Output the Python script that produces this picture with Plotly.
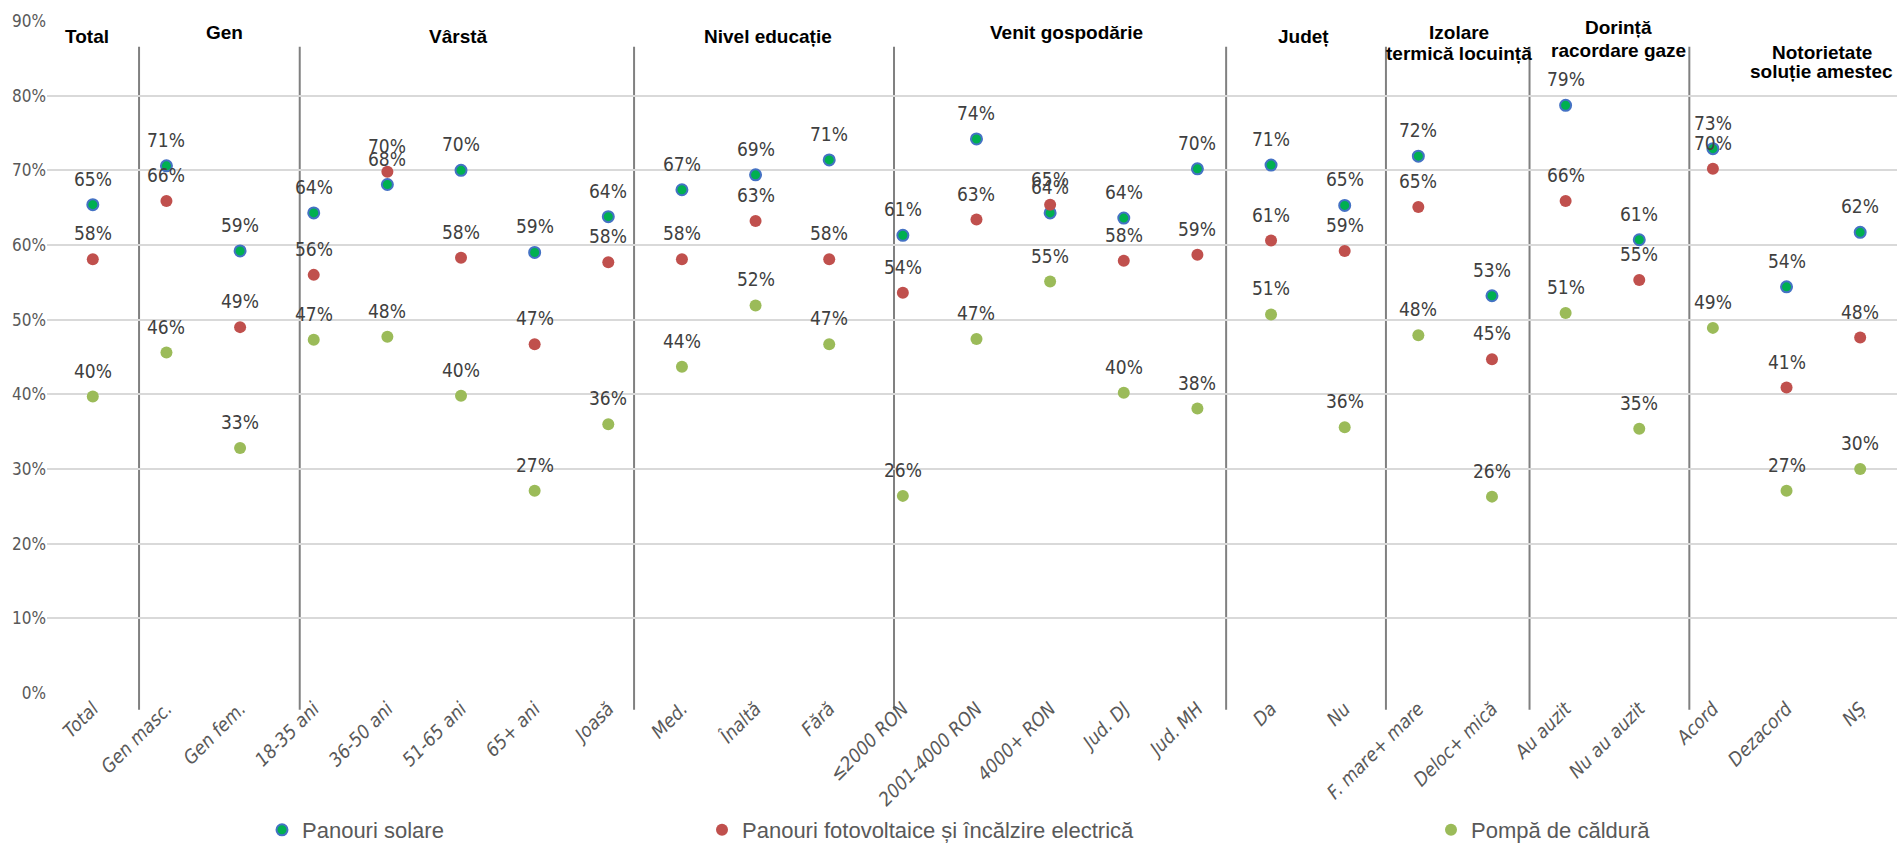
import plotly.graph_objects as go

# ---------------- data ----------------
categories = ["Total", "Gen masc.", "Gen fem.", "18-35 ani", "36-50 ani", "51-65 ani", "65+ ani",
              "Joasă", "Med.", "Înaltă", "Fără", "≤2000 RON", "2001-4000 RON", "4000+ RON",
              "Jud. DJ", "Jud. MH", "Da", "Nu", "F. mare+ mare", "Deloc+ mică", "Au auzit",
              "Nu au auzit", "Acord", "Dezacord", "NȘ"]

panouri_solare = [65.4, 70.6, 59.2, 64.3, 68.1, 70.0, 59.0, 63.8, 67.4, 69.4, 71.4, 61.3, 74.2,
                  64.3, 63.6, 70.2, 70.7, 65.3, 71.9, 53.2, 78.7, 60.7, 72.9, 54.4, 61.7]
panouri_fotovoltaice = [58.1, 65.9, 49.0, 56.0, 69.8, 58.3, 46.7, 57.7, 58.1, 63.2, 58.1, 53.6, 63.4,
                        65.4, 57.9, 58.7, 60.6, 59.2, 65.1, 44.7, 65.9, 55.3, 70.2, 40.9, 47.6]
pompa_caldura = [39.7, 45.6, 32.8, 47.3, 47.7, 39.8, 27.1, 36.0, 43.7, 51.9, 46.7, 26.4, 47.4,
                 55.1, 40.2, 38.1, 50.7, 35.6, 47.9, 26.3, 50.9, 35.4, 48.9, 27.1, 30.0]

series_names = ["Panouri solare", "Panouri fotovoltaice și încălzire electrică", "Pompă de căldură"]

y_ticks = [0, 10, 20, 30, 40, 50, 60, 70, 80, 90]

# group headers: (lines, x in category units, y in % per line)
group_headers = [
    (["Total"], -0.085, [87.9]),
    (["Gen"], 1.79, [88.4]),
    (["Vârstă"], 4.97, [87.9]),
    (["Nivel educație"], 9.17, [87.9]),
    (["Venit gospodărie"], 13.22, [88.4]),
    (["Județ"], 16.44, [87.9]),
    (["Izolare", "termică locuință"], 18.55, [88.4, 85.6]),
    (["Dorință", "racordare gaze"], 20.72, [89.1, 86.0]),
    (["Notorietate", "soluție amestec"], 23.48, [85.8, 83.2]),
]

# group separators (category units)
separators = [0.628, 2.81, 7.35, 10.88, 15.39, 17.56, 19.51, 21.68]

# ---------------- style ----------------
NARROW = "Liberation Sans Narrow, DejaVu Sans Condensed, Arial Narrow, sans-serif"
BOLD = "Liberation Sans, Arial, sans-serif"
X_MIN, X_MAX = -0.622, 24.5

def xpaper(c):
    return (c - X_MIN) / (X_MAX - X_MIN)

x_idx = list(range(len(categories)))

fig = go.Figure()

styles = [
    dict(color="#00b050", size=11, line=dict(color="#4472c4", width=2)),
    dict(color="#c0504d", size=12, line=dict(color="#c0504d", width=0)),
    dict(color="#9bbb59", size=12, line=dict(color="#9bbb59", width=0)),
]
all_series = [panouri_solare, panouri_fotovoltaice, pompa_caldura]
legend_ids = ["legend", "legend2", "legend3"]

for vals, name, st, lg in zip(all_series, series_names, styles, legend_ids):
    fig.add_trace(go.Scatter(
        x=x_idx, y=vals, mode="markers", name=name, marker=st,
        legend=lg, cliponaxis=False,
        hovertemplate="%{y:.0f}%<extra>" + name + "</extra>",
    ))

annotations = []
for vals in all_series:
    for i, v in enumerate(vals):
        annotations.append(dict(
            x=i, y=v, xref="x", yref="y", text=f"{v:.0f}%", showarrow=False,
            yshift=26, font=dict(family=NARROW, size=19, color="#404040"),
        ))

for lines, hx, ys in group_headers:
    for line, hy in zip(lines, ys):
        annotations.append(dict(
            x=hx, y=hy, xref="x", yref="y", text=f"<b>{line}</b>", showarrow=False,
            font=dict(family=BOLD, size=19, color="#000000"),
            xanchor="center", yanchor="middle",
        ))

shapes = []
for s in separators:
    shapes.append(dict(
        type="line", xref="paper", yref="paper",
        x0=xpaper(s), x1=xpaper(s), y0=-0.025, y1=0.9617,
        line=dict(color="#808080", width=2), layer="below",
    ))

legend_common = dict(
    orientation="h", yanchor="middle", y=-0.2047, xanchor="left",
    font=dict(family=BOLD, size=22, color="#595959"),
    bgcolor="rgba(0,0,0,0)", itemwidth=30,
)

fig.update_layout(
    width=1897, height=851,
    margin=dict(l=47, r=0, t=21, b=151, pad=0),
    plot_bgcolor="white", paper_bgcolor="white",
    showlegend=True,
    legend=dict(legend_common, x=(262 - 47) / 1850),
    legend2=dict(legend_common, x=(702 - 47) / 1850),
    legend3=dict(legend_common, x=(1431 - 47) / 1850),
    annotations=annotations,
    shapes=shapes,
    xaxis=dict(
        range=[X_MIN, X_MAX], tickvals=x_idx, ticktext=categories, tickangle=-45,
        showgrid=False, zeroline=False, showline=False, ticks="",
        tickfont=dict(family=NARROW, size=19, color="#595959", style="italic"),
    ),
    yaxis=dict(
        range=[0, 90], tickvals=y_ticks, ticktext=[f"{t}%" for t in y_ticks],
        showgrid=True, gridcolor="#d9d9d9", gridwidth=2, zeroline=False,
        showline=False, ticks="",
        tickfont=dict(family=NARROW, size=17, color="#595959"),
    ),
)

fig.write_html("out.html", include_plotlyjs=True, full_html=True,
               config={"displayModeBar": False},
               post_script="document.body.style.margin='0';document.body.style.overflow='hidden';")
